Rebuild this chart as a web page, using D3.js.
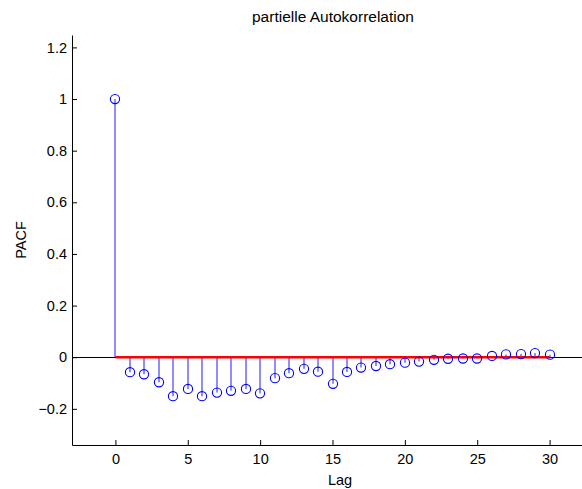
<!DOCTYPE html>
<html>
<head>
<meta charset="utf-8">
<script src="https://cdn.jsdelivr.net/npm/d3@7"></script>
<style>
  body { margin: 0; background: #fff; }
  svg { display: block; font-family: "Liberation Sans", Arial, sans-serif; }
</style>
</head>
<body>
<div id="chart"></div>
<script>
// lags and partial autocorrelation values
var lags = d3.range(0, 31);
var pacf = [1.000,
  -0.058, -0.066, -0.097, -0.151, -0.123, -0.151, -0.137, -0.130, -0.123, -0.140,
  -0.081, -0.062, -0.045, -0.056, -0.103, -0.057, -0.040, -0.034, -0.027, -0.021,
  -0.017, -0.010, -0.006, -0.005, -0.005, 0.005, 0.011, 0.012, 0.016, 0.010];
var xTicks = [0, 5, 10, 15, 20, 25, 30];
var yTicks = [-0.2, 0, 0.2, 0.4, 0.6, 0.8, 1, 1.2];

var width = 582, height = 489;
var margin = { top: 35, right: -11, bottom: 44, left: 72 };

var svg = d3.select("#chart").append("svg")
    .attr("width", width)
    .attr("height", height);

var x = d3.scaleLinear()
    .domain([-3, 33])
    .range([margin.left, width - margin.right]);

var y = d3.scaleLinear()
    .domain([-0.34, 1.248])
    .range([height - margin.bottom, margin.top]);

var data = lags.map(function (d, i) { return { lag: d, value: pacf[i] }; });

// zero line
svg.append("line")
    .attr("x1", x.range()[0]).attr("x2", x.range()[1])
    .attr("y1", Math.round(y(0)) + 0.5).attr("y2", Math.round(y(0)) + 0.5)
    .style("stroke", "#000").style("stroke-width", 1);

// stems
svg.selectAll(".stem")
    .data(data)
    .enter().append("line")
    .attr("class", "stem")
    .attr("x1", function (d) { return Math.round(x(d.lag)); })
    .attr("x2", function (d) { return Math.round(x(d.lag)); })
    .attr("y1", y(0))
    .attr("y2", function (d) { return y(d.value); })
    .style("stroke", "#0000ff").style("stroke-width", 1.2).style("stroke-opacity", 0.75);

// red reference line
svg.append("line")
    .attr("x1", x(0)).attr("x2", x(30))
    .attr("y1", y(0)).attr("y2", y(0))
    .style("stroke", "#ff0000").style("stroke-width", 2.5);

// markers
svg.selectAll(".mark")
    .data(data)
    .enter().append("circle")
    .attr("class", "mark")
    .attr("cx", function (d) { return Math.round(x(d.lag)); })
    .attr("cy", function (d) { return y(d.value); })
    .attr("r", 4.6)
    .style("fill", "none")
    .style("stroke", "#0000ff").style("stroke-width", 1.1);

// axes, ticks inside
var xAxis = svg.append("g")
    .attr("transform", "translate(0," + y.range()[0] + ")")
    .call(d3.axisBottom(x).tickValues(xTicks).tickSize(-5).tickPadding(9).tickSizeOuter(0));
var yAxis = svg.append("g")
    .attr("transform", "translate(" + x.range()[0] + ",0)")
    .call(d3.axisLeft(y).tickValues(yTicks).tickSize(-5).tickPadding(5).tickSizeOuter(0)
        .tickFormat(function (d) { return d === 0 ? "0" : d3.format("")(d).replace("-", "\u2212"); }));

svg.selectAll(".domain").attr("stroke", "#000").attr("stroke-width", 1);
svg.selectAll(".tick line").attr("stroke", "#000");
svg.selectAll(".tick text").attr("font-size", 14.5).attr("fill", "#000")
    .attr("font-family", "Liberation Sans, Arial, sans-serif");

// titles
svg.append("text")
    .attr("x", 333).attr("y", 22)
    .attr("text-anchor", "middle")
    .attr("font-size", 15.5)
    .text("partielle Autokorrelation");

svg.append("text")
    .attr("x", 340).attr("y", 485)
    .attr("text-anchor", "middle")
    .attr("font-size", 14.5)
    .text("Lag");

svg.append("text")
    .attr("transform", "translate(26,240)rotate(-90)")
    .attr("text-anchor", "middle")
    .attr("font-size", 14.5)
    .text("PACF");
</script>
</body>
</html>
